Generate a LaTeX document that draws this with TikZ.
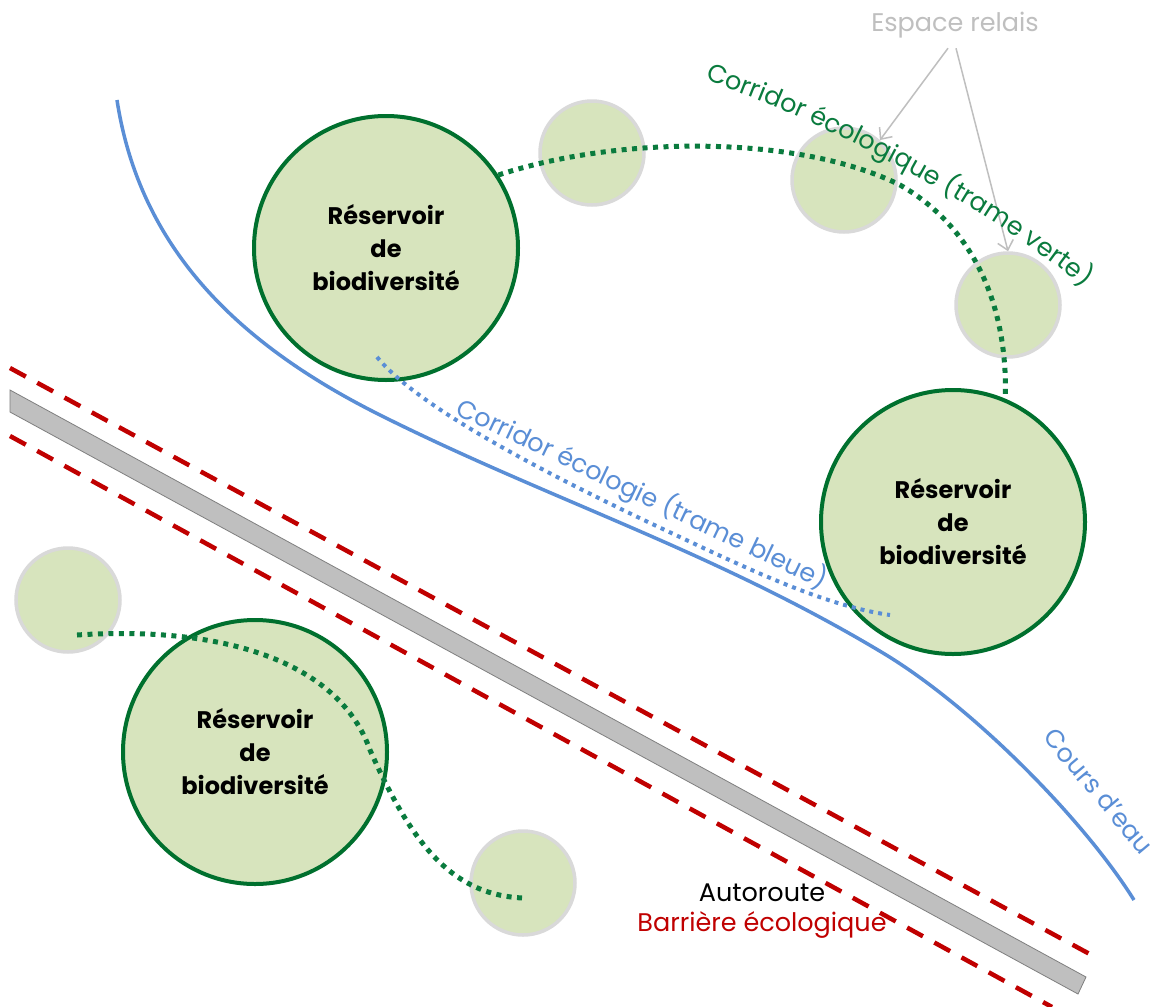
\documentclass[tikz,border=0pt]{standalone}
\usepackage{fontspec}
\setmainfont{Poppins}
\usetikzlibrary{arrows.meta,decorations.text}
\definecolor{resfill}{HTML}{D7E4BD}
\definecolor{resdraw}{HTML}{00702E}
\definecolor{relaisdraw}{HTML}{D9D9D9}
\definecolor{vert}{HTML}{0A7B3E}
\definecolor{bleu}{HTML}{5A8ED6}
\definecolor{rouge}{HTML}{C00000}
\definecolor{gristxt}{HTML}{BFBFBF}
\definecolor{route}{HTML}{BFBFBF}
\definecolor{routeedge}{HTML}{7F7F7F}
\tikzset{
  reservoir/.style={circle, draw=resdraw, line width=4pt, fill=resfill, minimum size=264pt, inner sep=0pt, align=center, font=\bfseries\fontsize{24}{33}\selectfont},
  relais/.style={circle, draw=relaisdraw, line width=3.5pt, fill=resfill, minimum size=104pt, inner sep=0pt},
  riviere/.style={draw=bleu, line width=3.5pt},
  tramebleue/.style={draw=bleu, line width=4pt, dash pattern=on 4pt off 5pt},
  trameverte/.style={draw=vert, line width=5pt, dash pattern=on 5pt off 5.5pt},
  barriere/.style={draw=rouge, line width=4.5pt, dash pattern=on 18pt off 13pt},
  fleche/.style={draw=gristxt, line width=1.5pt, -{Straight Barb[length=9pt,width=16pt]}},
  lbl/.style={font=\fontsize{25.5}{28}\selectfont, inner sep=0pt}
}
\begin{document}
\begin{tikzpicture}[x=1pt,y=-1pt]
\useasboundingbox (0,0) rectangle (1157,1007);
\fill[white] (0,0) rectangle (1157,1007);
% river
\draw[riviere] (117,100) .. controls (140,250) and (240,345) .. (380,415)
  .. controls (550,500) and (713,551) .. (883,653)
  .. controls (973,707) and (1084,820) .. (1134,900);
% road and barriers
\filldraw[fill=route, draw=routeedge, line width=0.8pt] (10,390) -- (1086,977) -- (1078,994) -- (10,412) -- cycle;
\draw[barriere] (10,368) -- (1097,958);
\draw[barriere] (10,436) -- (1052,1007);
% relay spaces
\node[relais] (s1) at (592,153) {};
\node[relais] (s2) at (844,180) {};
\node[relais] (s3) at (1008,305) {};
\node[relais] (s4) at (68,600) {};
\node[relais] (s5) at (523,883) {};
% reservoirs
\node[reservoir] (ra) at (386,248) {Réservoir\\de\\biodiversité};
\node[reservoir] (rb) at (953,522) {Réservoir\\de\\biodiversité};
\node[reservoir] (rc) at (255,752) {Réservoir\\de\\biodiversité};
% corridors
\draw[trameverte] (ra.33) .. controls (620,135) and (800,135) .. (900,185)
  .. controls (970,225) and (1008,300) .. (rb.67);
\coordinate (g0) at (77,635);
\coordinate (g1) at (523,898);
\draw[trameverte] (g0) .. controls (230,625) and (340,665) .. (370,750)
  .. controls (410,840) and (450,895) .. (g1);
\coordinate (b0) at (377,357);
\coordinate (b1) at (890,615);
\draw[tramebleue] (b0) .. controls (420,410) and (560,480) .. (650,523)
  .. controls (740,565) and (820,605) .. (b1);
% labels
\node[lbl, text=gristxt] (er) at (955,25) {Espace relais};
\draw[fleche] ([xshift=-7pt,yshift=-10pt]er.south) -- (s2.48);
\draw[fleche] ([xshift=1pt,yshift=-10pt]er.south) -- (s3.north);
\path[decorate, decoration={text along path, text align=left,
  text={|\fontsize{25.5}{28}\selectfont\color{vert}|Corridor écologique (trame verte)}}]
  (705,80) .. controls (820,120) and (980,200) .. (1100,300);
\node[lbl, text=bleu, rotate=-25.5] (tb) at (642,494) {Corridor écologie (trame bleue)};
\node[lbl, text=bleu, rotate=-50] (ce) at (1099,791) {Cours d'eau};
\node[lbl, text=black] (ar) at (762,893) {Autoroute};
\node[lbl, text=rouge] (be) at (762,925) {Barrière écologique};
\end{tikzpicture}
\end{document}
